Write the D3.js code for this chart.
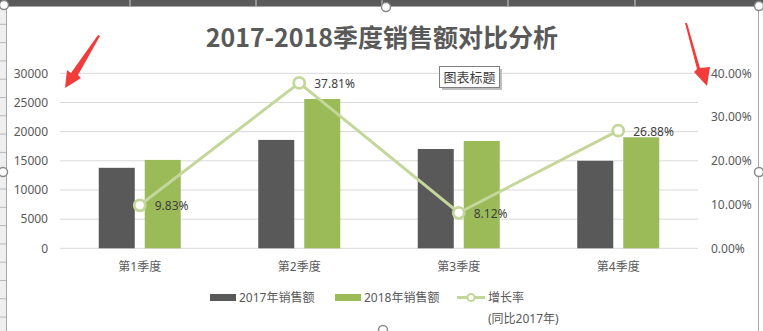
<!DOCTYPE html>
<html><head><meta charset="utf-8">
<script src="https://cdn.jsdelivr.net/npm/d3@7"></script>
<style>
html,body{margin:0;padding:0;background:#fff;}
svg{display:block;}
text{font-family:"Noto Sans","Noto Sans CJK SC",sans-serif;}
</style></head>
<body>
<svg id="c" width="763" height="331"></svg>
<script>
const categories = ["第1季度","第2季度","第3季度","第4季度"];
const sales2017 = [13800, 18580, 17020, 15000];
const sales2018 = [15150, 25600, 18400, 19030];
const growth = [0.0983, 0.3781, 0.0812, 0.2688];
const growthLabels = ["9.83%","37.81%","8.12%","26.88%"];
const leftTicks = [0,5000,10000,15000,20000,25000,30000];
const rightTicks = [0,0.1,0.2,0.3,0.4];
const seriesNames = ["2017年销售额","2018年销售额","增长率"];
const title = "2017-2018季度销售额对比分析";

const svg = d3.select("#c");
const W=763,H=331;
const c1="#595959", c2="#9bbb59", c3="#c4d79b", txt="#595959";

// spreadsheet frame
svg.append("rect").attr("x",0).attr("y",0).attr("width",6).attr("height",H).attr("fill","#efefef");
d3.range(6,H,18.3).forEach(y=>svg.append("line").attr("x1",0).attr("x2",6).attr("y1",y).attr("y2",y).attr("stroke","#b8b8b8"));
svg.append("rect").attr("x",0).attr("y",0).attr("width",W).attr("height",6).attr("fill","#5a5a5a");
[130,256,382,508,635].forEach(x=>svg.append("line").attr("x1",x).attr("x2",x).attr("y1",0).attr("y2",6).attr("stroke","#d0d0d0"));
svg.append("rect").attr("x",6.5).attr("y",6.5).attr("width",752).attr("height",H).attr("fill","#fff").attr("stroke","#a6a6a6");

// scales
const x = d3.scaleBand().domain(categories).range([60,698]);
const xs = d3.scaleBand().domain(["a","b"]).range([-41,41]).paddingInner(0.217);
const yL = d3.scaleLinear().domain([0,30000]).range([248.3,73.3]);
const yR = d3.scaleLinear().domain([0,0.4]).range([248.3,73.3]);

// gridlines
svg.append("g").selectAll("line").data(leftTicks).join("line")
 .attr("x1",60).attr("x2",698).attr("y1",d=>yL(d)).attr("y2",d=>yL(d))
 .attr("stroke","#d9d9d9").attr("stroke-width",1);

// axes
const ax = g=>{g.select(".domain").remove();g.selectAll("text").attr("fill",txt).style("font-size","12px");};
svg.append("g").attr("transform","translate(60,0)")
 .call(d3.axisLeft(yL).tickValues(leftTicks).tickSize(0).tickPadding(12).tickFormat(d3.format("d"))).call(ax);
svg.append("g").attr("transform","translate(698,0)")
 .call(d3.axisRight(yR).tickValues(rightTicks).tickSize(0).tickPadding(13).tickFormat(d3.format(".2%"))).call(ax);
svg.append("g").attr("transform","translate(0,248.3)")
 .call(d3.axisBottom(x).tickSize(0).tickPadding(14)).call(ax);

// bars
const bars = svg.append("g");
bars.selectAll(".b17").data(sales2017).join("rect")
 .attr("x",(d,i)=>x(categories[i])+x.bandwidth()/2+xs("a")).attr("width",xs.bandwidth())
 .attr("y",d=>yL(d)).attr("height",d=>yL(0)-yL(d)).attr("fill",c1);
bars.selectAll(".b18").data(sales2018).join("rect")
 .attr("x",(d,i)=>x(categories[i])+x.bandwidth()/2+xs("b")).attr("width",xs.bandwidth())
 .attr("y",d=>yL(d)).attr("height",d=>yL(0)-yL(d)).attr("fill",c2);

// line
const cx = i=>x(categories[i])+x.bandwidth()/2;
svg.append("path").datum(growth)
 .attr("d",d3.line().x((d,i)=>cx(i)).y(d=>yR(d)))
 .attr("fill","none").attr("stroke",c3).attr("stroke-width",3);
svg.append("g").selectAll("circle").data(growth).join("circle")
 .attr("cx",(d,i)=>cx(i)).attr("cy",d=>yR(d)).attr("r",5.5)
 .attr("fill","#fff").attr("stroke",c3).attr("stroke-width",2.8);
svg.append("g").selectAll("text").data(growth).join("text")
 .attr("x",(d,i)=>cx(i)+15).attr("y",d=>yR(d)+5).text((d,i)=>growthLabels[i])
 .attr("fill","#404040").style("font-size","12px");

// title
svg.append("text").attr("x",382).attr("y",47).attr("text-anchor","middle")
 .attr("fill",txt).style("font-size","25px").style("font-weight","bold")
 .style("font-family","'Noto Sans CJK SC',sans-serif").text(title);

// tooltip box
svg.append("rect").attr("x",442).attr("y",69).attr("width",60).attr("height",21).attr("fill","#bfbfbf");
svg.append("rect").attr("x",439.5).attr("y",66.5).attr("width",60).attr("height",21).attr("fill","#fff").attr("stroke","#7f7f7f");
svg.append("text").attr("x",469.5).attr("y",81.5).attr("text-anchor","middle").attr("fill","#404040")
 .style("font-size","13px").style("font-family","'Noto Sans CJK SC',sans-serif").text("图表标题");

// legend
const lg = svg.append("g");
lg.append("rect").attr("x",210).attr("y",294).attr("width",26).attr("height",7).attr("fill",c1);
lg.append("text").attr("x",239).attr("y",302).text(seriesNames[0]).attr("fill",txt).style("font-size","12px");
lg.append("rect").attr("x",335).attr("y",294).attr("width",26).attr("height",7).attr("fill",c2);
lg.append("text").attr("x",364).attr("y",302).text(seriesNames[1]).attr("fill",txt).style("font-size","12px");
lg.append("line").attr("x1",457).attr("x2",485).attr("y1",297.5).attr("y2",297.5).attr("stroke",c3).attr("stroke-width",3);
lg.append("circle").attr("cx",471).attr("cy",297.5).attr("r",3.5).attr("fill","#fff").attr("stroke",c3).attr("stroke-width",2);
lg.append("text").attr("x",488).attr("y",302).text(seriesNames[2]).attr("fill",txt).style("font-size","12px");
lg.append("text").attr("x",488).attr("y",323).text("(同比2017年)").attr("fill",txt).style("font-size","12px");

// red arrows
const red="#f23b3b";
svg.append("path").attr("d","M100,36 L78,75 L81,78 L65,88 L67,70 L71,73 L98,35 Z").attr("fill",red);
svg.append("path").attr("d","M687,23 L700,68 L710,67 L707,86 L694,72 L697,69 L685,23 Z").attr("fill",red);

// selection handles
[[4,5],[386,7],[759,6],[3,172],[759,172],[383,330]].forEach(p=>
 svg.append("circle").attr("cx",p[0]).attr("cy",p[1]).attr("r",4.5).attr("fill","#fff").attr("stroke","#8a8a8a").attr("stroke-width",1.5));
</script>
</body></html>
